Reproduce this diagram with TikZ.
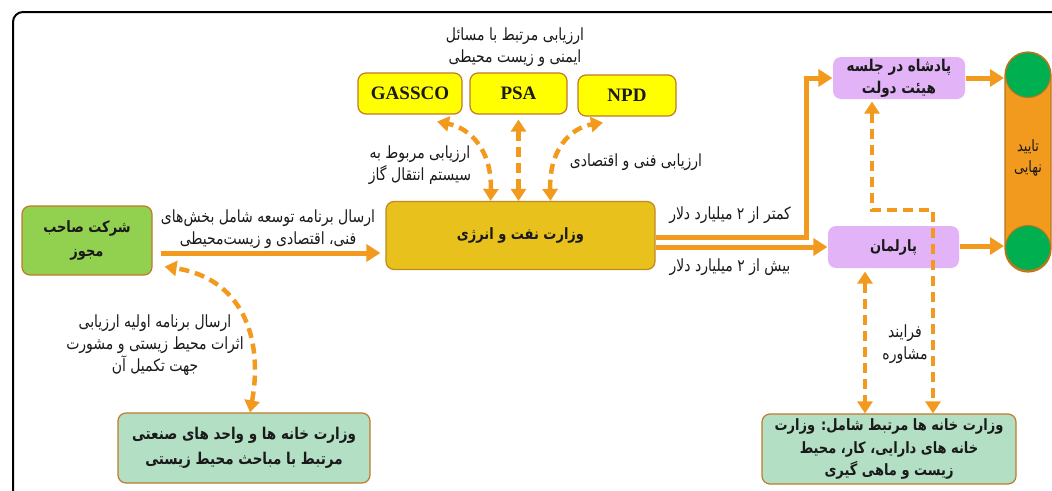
\documentclass[tikz,border=0pt]{standalone}
\usepackage{fontspec}
\usetikzlibrary{arrows.meta,calc}
\TeXXeTstate=1
\newfontfamily\arabicfont[Script=Arabic]{DejaVu Sans}
\newfontfamily\latinserif{Liberation Serif}
\newcommand\fa[1]{\scalebox{1}[1.2]{\arabicfont\beginR #1\endR}}
\definecolor{orng}{HTML}{F29A1E}
\definecolor{edge}{HTML}{C07A2A}
\definecolor{yel}{HTML}{FFFF00}
\definecolor{gold}{HTML}{E8C11C}
\definecolor{goldedge}{HTML}{C08A1E}
\definecolor{lgreen}{HTML}{92D050}
\definecolor{mint}{HTML}{B3DFC4}
\definecolor{purp}{HTML}{E2B4F7}
\definecolor{grn}{HTML}{00B050}
\definecolor{cyledge}{HTML}{B8741A}
\definecolor{txt}{HTML}{1A1A1A}
\tikzset{
  box/.style={rounded corners=8pt, draw=edge, line width=1.2pt, inner sep=0pt, align=center, text=txt,
    font=\arabicfont\bfseries\fontsize{13}{24}\selectfont},
  ybox/.style={box, fill=yel, minimum height=41pt, font=\latinserif\bfseries\fontsize{19}{22}\selectfont},
  pbox/.style={box, draw=none, fill=purp, minimum width=131pt, minimum height=42pt},
  lbl/.style={align=center, text=txt, inner sep=0pt, font=\arabicfont\fontsize{14}{22}\selectfont},
  arr/.style={line width=5pt, draw=orng, -{Triangle[length=14pt,width=17pt,fill=orng]}},
  darr/.style={line width=4.5pt, draw=orng, dash pattern=on 10pt off 6pt,
    {Triangle[length=12pt,width=15pt,fill=orng]}-{Triangle[length=12pt,width=15pt,fill=orng]}},
}
\begin{document}
\begin{tikzpicture}[x=1pt,y=-1pt]
\useasboundingbox (0,0) rectangle (1052,490);
\clip (0,0) rectangle (1052,490);
% outer frame
\draw[line width=2pt, rounded corners=10pt] (13,500) -- (13,12) -- (1070,12);

% nodes
\node[ybox, minimum width=104pt] (gassco) at (410,93.5) {GASSCO};
\node[ybox, minimum width=97pt] (psa) at (518.5,93.5) {PSA};
\node[ybox, minimum width=98pt] (npd) at (627,95.5) {NPD};
\node[box, fill=gold, draw=goldedge, minimum width=269pt, minimum height=68pt] (vn) at (520.5,235.5) {\fa{وزارت نفت و انرژی}};
\node[box, fill=lgreen, minimum width=130pt, minimum height=69pt] (shm) at (87,240.5) {\fa{شرکت صاحب}\\\fa{مجوز}};
\node[box, fill=mint, minimum width=252pt, minimum height=70pt, font=\arabicfont\bfseries\fontsize{13.5}{25}\selectfont] (vbl) at (244,448) {\fa{وزارت خانه ها و واحد های صنعتی}\\\fa{مرتبط با مباحث محیط زیستی}};
\node[pbox] (parl) at (893.5,247) {\fa{پارلمان}};
\node[pbox, minimum width=132pt, font=\arabicfont\bfseries\fontsize{13.5}{22}\selectfont] (shah) at (899,78) {\fa{پادشاه در جلسه}\\\fa{هیئت دولت}};
\node[box, fill=mint, minimum width=254pt, minimum height=70pt, font=\arabicfont\bfseries\fontsize{13}{22.5}\selectfont] (vbr) at (889,449) {\fa{وزارت خانه ها مرتبط شامل: وزارت}\\\fa{خانه های دارایی، کار، محیط}\\\fa{زیست و ماهی گیری}};
\node[draw=cyledge, line width=1.2pt, fill=orng, rounded corners=23pt, minimum width=46pt, minimum height=220pt, inner sep=0pt] (cyl) at (1028,162) {};
\node[circle, draw=cyledge, line width=1pt, fill=grn, minimum size=45pt, inner sep=0pt] (ctop) at (1028,75) {};
\node[circle, draw=cyledge, line width=1pt, fill=grn, minimum size=45pt, inner sep=0pt] (cbot) at (1028,248) {};
\node[lbl, font=\arabicfont\fontsize{13}{21}\selectfont] (cyltext) at (1028,158) {\fa{تایید}\\\fa{نهایی}};

% labels
\node[lbl] (l1) at (515,47) {\fa{ارزیابی مرتبط با مسائل}\\\fa{ایمنی و زیست محیطی}};
\node[lbl] (l2) at (420,165) {\fa{ارزیابی مربوط به}\\\fa{سیستم انتقال گاز}};
\node[lbl] (l3) at (636,162) {\fa{ارزیابی فنی و اقتصادی}};
\node[lbl] (l4) at (268,229) {\fa{ارسال برنامه توسعه شامل بخش‌های}\\\fa{فنی، اقتصادی و زیست‌محیطی}};
\node[lbl] (l5) at (155,345) {\fa{ارسال برنامه اولیه ارزیابی}\\\fa{اثرات محیط زیستی و مشورت}\\\fa{جهت تکمیل آن}};
\node[lbl] (l6) at (730,215) {\fa{کمتر از ۲ میلیارد دلار}};
\node[lbl] (l7) at (730,267) {\fa{بیش از ۲ میلیارد دلار}};
\node[lbl] (l8) at (905,344) {\fa{فرایند}\\\fa{مشاوره}};

% solid connectors
\draw[arr] ([shift={(8pt,-12.5pt)}]shm.east) -- ([xshift=-5pt]vn.west |- 0,253);
\coordinate (bend) at (806,237);
\draw[arr] (vn.east |- bend) -- (bend) -- (bend |- shah.west) -- (shah.west);
\draw[arr] (vn.east |- 0,247) -- (parl.west |- 0,247);
\draw[arr] (shah.east) -- ([xshift=-1pt]ctop.west |- shah.east);
\draw[arr] (parl.east |- 0,246) -- ([xshift=-1pt]cbot.west |- 0,246);

% dashed connectors
\draw[darr] ([xshift=-30pt]vn.north) .. controls (492,150) and (470,128) .. ([shift={(27pt,-7pt)}]gassco.south);
\draw[darr] ([yshift=-5pt]psa.south) -- (psa.south |- vn.north);
\draw[darr] ([xshift=30pt]vn.north) .. controls (549,150) and (570,128) .. ([shift={(-24pt,-6pt)}]npd.south);
\draw[darr] ([xshift=6pt]vbl.north) .. controls (264,335) and (240,278) .. ([shift={(12pt,9pt)}]shm.south east);
\draw[darr] ([xshift=-28.5pt,yshift=-3pt]parl.south) -- ([xshift=-28.5pt]parl.south |- vbr.north);
\coordinate (k1) at (872,210);
\coordinate (k2) at (933,210);
\draw[darr] ([xshift=-27pt,yshift=-2pt]shah.south) -- (k1) -- (k2) -- (k2 |- vbr.north);
\end{tikzpicture}
\end{document}
